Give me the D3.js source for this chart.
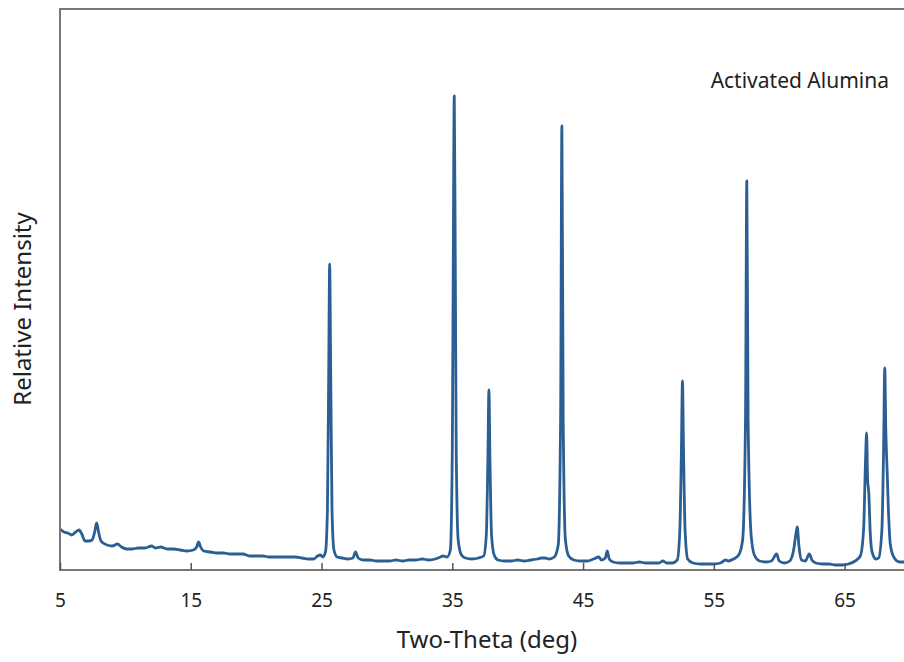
<!DOCTYPE html>
<html><head><meta charset="utf-8">
<script src="https://cdn.jsdelivr.net/npm/d3@7"></script>
<style>body{margin:0;background:#fff;} svg{display:block;} text{font-family:"Noto Sans","DejaVu Sans",sans-serif;fill:#222;}</style>
</head><body>
<svg id="c" width="904" height="662"></svg>
<script>
const twoTheta = [5.0,5.3,5.6,5.9,6.2,6.45,6.7,6.9,7.2,7.45,7.65,7.8,7.95,8.1,8.3,8.6,9.0,9.4,9.7,10.1,10.5,11.0,11.5,12.0,12.3,12.7,13.2,13.7,14.2,14.7,15.2,15.45,15.6,15.75,16.0,16.5,17.0,17.5,18.0,18.5,19.0,19.5,20.0,20.5,21.0,21.5,22.0,22.5,23.0,23.5,24.0,24.4,24.7,24.9,25.1,25.3,25.45,25.55,25.62,25.7,25.8,25.95,26.2,26.6,27.0,27.4,27.6,27.8,28.2,28.7,29.2,29.7,30.2,30.7,31.2,31.7,32.2,32.7,33.2,33.7,34.1,34.3,34.6,34.85,35.0,35.07,35.15,35.23,35.3,35.45,35.7,36.0,36.5,37.0,37.4,37.6,37.72,37.8,37.88,38.0,38.2,38.5,39.0,39.5,40.0,40.5,41.0,41.5,41.8,42.1,42.4,42.8,43.1,43.28,43.38,43.48,43.65,43.9,44.3,44.8,45.3,45.8,46.2,46.4,46.7,46.85,47.0,47.3,47.8,48.3,48.8,49.3,49.8,50.3,50.8,51.1,51.4,51.8,52.2,52.4,52.52,52.6,52.68,52.8,53.0,53.4,54.0,54.5,55.0,55.5,55.9,56.1,56.5,56.9,57.2,57.42,57.52,57.62,57.85,58.1,58.5,59.0,59.4,59.8,60.0,60.4,60.8,61.1,61.3,61.38,61.5,61.7,62.0,62.3,62.5,62.8,63.3,63.8,64.3,64.8,65.3,65.8,66.2,66.45,66.6,66.68,66.76,66.85,66.95,67.1,67.4,67.6,67.85,67.98,68.07,68.15,68.25,68.35,68.5,68.8,69.2,69.6,70.0];
const intensity = [41,38,37,35,38,40,35,29,29,30,38,47,38,30,27,25,24,26,23,21,21,22,22,24,22,23,21,21,20,19,20,23,28,23,19,18,17,17,16,16,16,14,14,14,13,13,13,13,13,12,11,11,14,15,13,18,60,200,306,200,60,20,13,12,11,12,18,12,10,10,9,9,9,10,9,10,10,11,10,11,13,14,13,20,120,300,474,300,120,30,15,12,11,12,14,35,110,180,110,35,15,10,9,9,10,9,10,11,12,12,11,13,25,150,444,150,30,14,10,9,9,11,13,10,12,19,11,8,7,7,7,8,7,7,7,9,7,7,10,40,120,189,120,40,11,7,6,6,6,7,10,9,11,15,30,150,389,150,35,15,9,8,9,16,9,7,9,20,38,43,25,10,9,16,10,7,6,6,5,5,6,9,14,40,110,137,90,77,40,18,11,12,40,120,202,140,100,60,25,12,8,8,8];
const xTicks = [5,15,25,35,45,55,65];
const xLabel = "Two-Theta (deg)";
const yLabel = "Relative Intensity";
const title = "Activated Alumina";

const svg = d3.select("#c");
const L = 60, T = 9, B = 570, R = 910;
const x = d3.scaleLinear().domain([5,70]).range([L,R]);
const y = d3.scaleLinear().domain([0,561]).range([B,T]);
const data = twoTheta.map((t,i)=>[t,intensity[i]]);

svg.append("defs").append("clipPath").attr("id","clip").append("rect")
  .attr("x",L).attr("y",T).attr("width",R-L).attr("height",B-T);

svg.append("path").datum(data).attr("clip-path","url(#clip)")
  .attr("fill","none").attr("stroke","#2b5f93").attr("stroke-width",2.8)
  .attr("stroke-linejoin","round")
  .attr("d", d3.line().x(d=>x(d[0])).y(d=>y(d[1])).curve(d3.curveMonotoneX));

// frame
svg.append("path").attr("fill","none").attr("stroke","#777").attr("stroke-width",2)
  .attr("d",`M${R},${T}H${L}V${B}H${R}`);

const ax = svg.append("g").attr("transform",`translate(0,${B})`)
  .call(d3.axisBottom(x).tickValues(xTicks).tickSize(-7).tickPadding(24).tickFormat(d3.format("d")));
ax.select(".domain").remove();
ax.selectAll(".tick line").attr("stroke","#555").attr("stroke-width",1.5);
ax.selectAll(".tick text").attr("font-size",19).attr("fill","#222")
  .style("font-family","'Noto Sans','DejaVu Sans',sans-serif");

svg.append("text").attr("x",487).attr("y",648).attr("text-anchor","middle")
  .attr("font-size",24).text(xLabel);
svg.append("text").attr("transform","translate(31,309) rotate(-90)").attr("text-anchor","middle")
  .attr("font-size",24).text(yLabel);
svg.append("text").attr("x",889).attr("y",88).attr("text-anchor","end")
  .attr("font-size",21).text(title);
</script>
</body></html>
